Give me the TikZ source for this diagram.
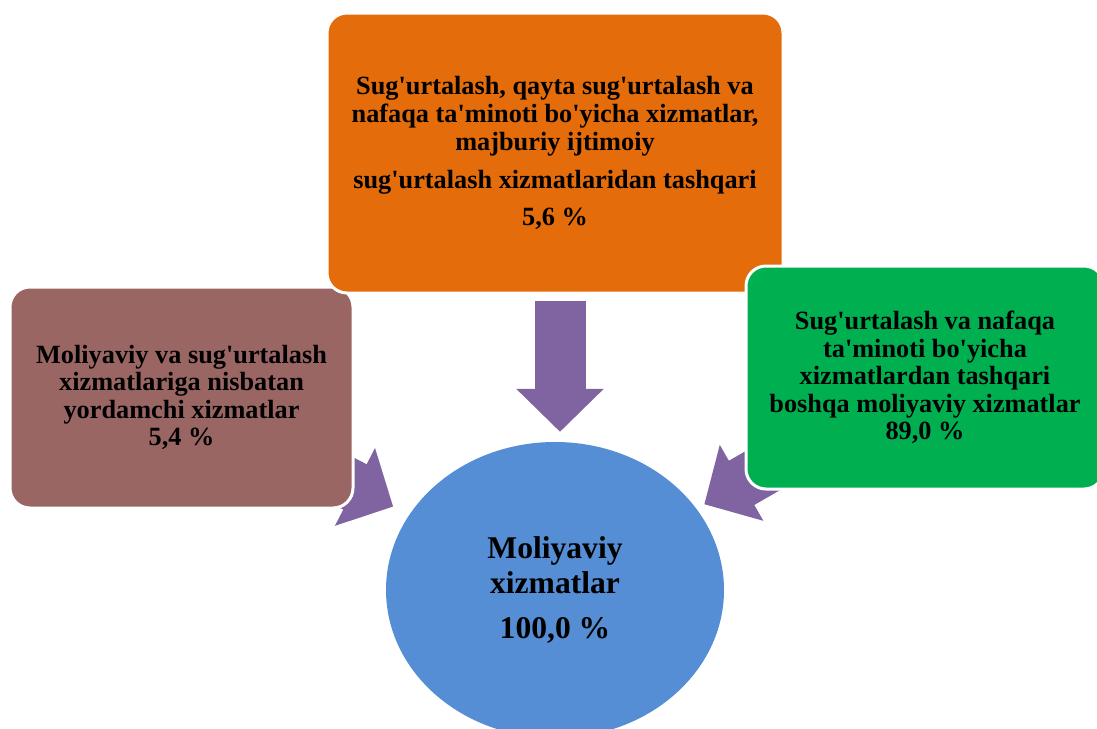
\documentclass[tikz,border=0pt]{standalone}
\usepackage{fontspec}
\setmainfont{Liberation Serif}[Ligatures=TeXOff]
\usetikzlibrary{shapes.geometric,arrows.meta}
\pgfdeclarelayer{back}
\pgfsetlayers{back,main}
\definecolor{orangebox}{HTML}{E46C0A}
\definecolor{brownbox}{HTML}{9A6664}
\definecolor{greenbox}{HTML}{00B050}
\definecolor{bluebox}{HTML}{558ED5}
\definecolor{arrowpurple}{HTML}{8064A2}

\begin{document}
\begin{tikzpicture}[x=1pt, y=-1pt,
    box/.style = {draw=white, line width=3pt, rounded corners=20pt, align=center, inner sep=0pt,
      font=\bfseries\fontsize{26.3}{27.6}\selectfont},
    arr/.style = {line width=51pt, draw=arrowpurple, -{Triangle[length=43pt, width=85pt]}}]
  \useasboundingbox (0,0) rectangle (1097,728);
  \clip (0,0) rectangle (1097,728);
  \node[box, fill=brownbox, minimum width=343pt, minimum height=221pt] (brown) at (181.5,397.5)
    {Moliyaviy va sug'urtalash\\ xizmatlariga nisbatan\\ yordamchi xizmatlar\\ 5,4 \%};
  \node[box, fill=orangebox, minimum width=456pt, minimum height=280pt] (orange) at (555,153)
    {Sug'urtalash, qayta sug'urtalash va\\ nafaqa ta'minoti bo'yicha xizmatlar,\\ majburiy ijtimoiy\\[11pt]
     sug'urtalash xizmatlaridan tashqari\\[9pt] 5,6 \%};
  \node[box, fill=greenbox, minimum width=358pt, minimum height=223pt] (green) at (925,377.5)
    {Sug'urtalash va nafaqa\\ ta'minoti bo'yicha\\ xizmatlardan tashqari\\ boshqa moliyaviy xizmatlar\\ 89,0 \%};
  \node[ellipse, fill=bluebox, minimum width=338pt, minimum height=296pt, inner sep=0pt, align=center,
    font=\bfseries\fontsize{31.6}{35}\selectfont] (ell) at (555,590)
    {Moliyaviy\\ xizmatlar\\[10pt] 100,0 \%};
  % block arrows, under the boxes
  \begin{pgfonlayer}{back}
    \draw[arr, shorten <=6pt, shorten >=10pt] ([xshift=5pt]orange.south) -- ([xshift=5pt]ell.north);
    \draw[arr, shorten >=18pt] (brown.center) -- (ell);
    \draw[arr, shorten >=9pt] (green.center) -- (ell);
  \end{pgfonlayer}
\end{tikzpicture}
\end{document}
